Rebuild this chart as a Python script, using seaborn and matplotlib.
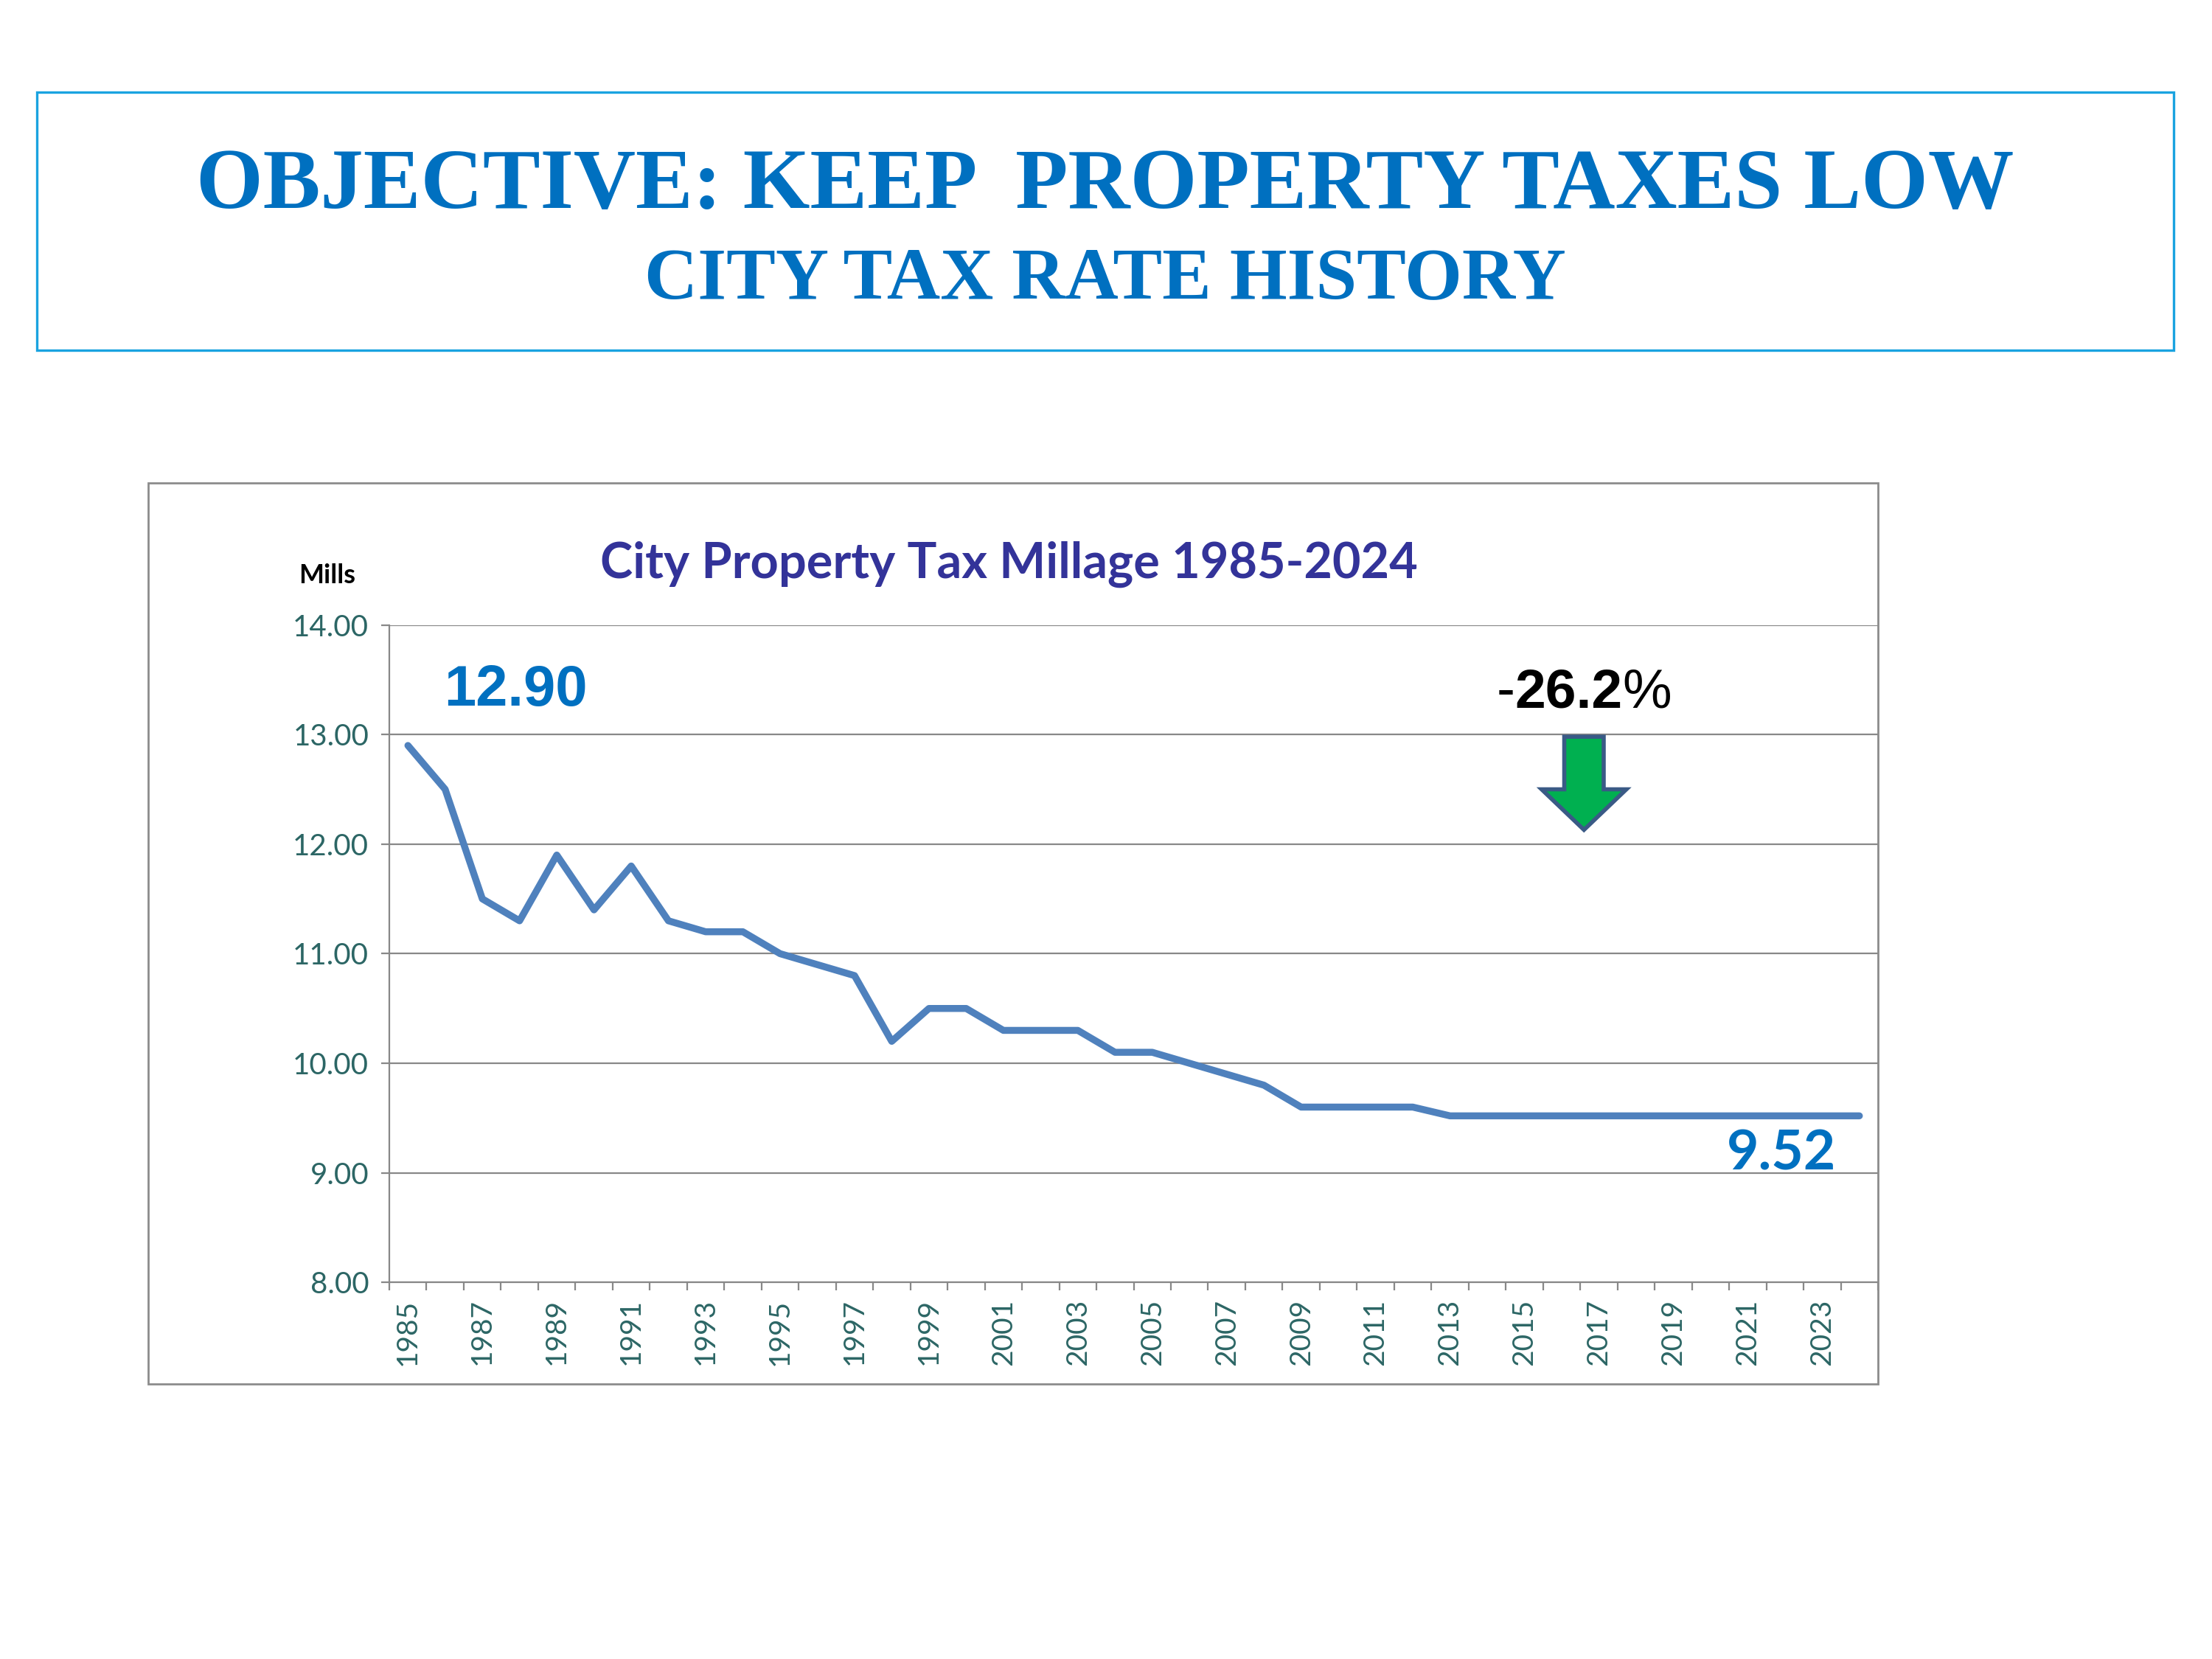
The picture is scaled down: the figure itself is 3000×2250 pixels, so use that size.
import numpy as np
import pandas as pd
import seaborn as sns
import matplotlib.pyplot as plt
from matplotlib.patches import Rectangle, Polygon

# millage by year
years = list(range(1985, 2025))
mills = [12.90, 12.50, 11.50, 11.30, 11.90, 11.40, 11.80, 11.30, 11.20, 11.20,
         11.00, 10.90, 10.80, 10.20, 10.50, 10.50, 10.30, 10.30, 10.30, 10.10,
         10.10, 10.00, 9.90, 9.80, 9.60, 9.60, 9.60, 9.60, 9.52, 9.52,
         9.52, 9.52, 9.52, 9.52, 9.52, 9.52, 9.52, 9.52, 9.52, 9.52]
y_ticks = [8, 9, 10, 11, 12, 13, 14]

df = pd.DataFrame({"pos": np.arange(len(years)), "year": years, "mills": mills})

sns.set_theme(style="white")
plt.rcParams["font.family"] = ["Lato", "DejaVu Sans"]

fig = plt.figure(figsize=(15, 11.25), dpi=200)

# header box
fig.patches.append(Rectangle((0.0166, 0.789), 0.966, 0.1556, transform=fig.transFigure,
                             fill=False, edgecolor="#1AA3E0", linewidth=1.2))
fig.text(0.4995, 0.887, "OBJECTIVE: KEEP  PROPERTY TAXES LOW", ha="center", va="center",
         family="Liberation Serif", fontweight="bold", fontsize=42, color="#0070C0")
fig.text(0.4995, 0.831, "CITY TAX RATE HISTORY", ha="center", va="center",
         family="Liberation Serif", fontweight="bold", fontsize=36, color="#0070C0")

# chart frame
fig.patches.append(Rectangle((0.067, 0.166), 0.782, 0.543, transform=fig.transFigure,
                             fill=False, edgecolor="#8C8C8C", linewidth=1.0))

ax = fig.add_axes([0.176, 0.227, 0.673, 0.3963])
sns.lineplot(data=df, x="pos", y="mills", ax=ax, color="#4F81BD", linewidth=3.4)

ax.set_xlim(-0.5, len(years) - 0.5)
ax.set_ylim(8, 14)
ax.set_yticks(y_ticks, [f"{v:.2f}" for v in y_ticks])
ax.yaxis.grid(True, color="#888888", linewidth=0.8)
ax.set_axisbelow(True)

# category boundaries get tick marks, every other year gets a label
ax.set_xticks(np.arange(-0.5, len(years), 1.0), [])
label_pos = np.arange(0, len(years), 2)
ax.set_xticks(label_pos, [str(years[i]) for i in label_pos], minor=True)
ax.tick_params(axis="x", which="major", direction="out", length=4, width=0.8,
               color="#888888", bottom=True)
ax.tick_params(axis="x", which="minor", length=0, labelsize=14, labelcolor="#2C6665",
               labelrotation=90, pad=8)
ax.tick_params(axis="y", direction="out", length=4, width=0.8, color="#888888", left=True,
               labelsize=14.5, labelcolor="#2C6665", pad=6)

for side in ["top", "right"]:
    ax.spines[side].set_visible(False)
for side in ["left", "bottom"]:
    ax.spines[side].set_color("#888888")
    ax.spines[side].set_linewidth(0.8)
ax.set_xlabel("")
ax.set_ylabel("")

fig.text(0.456, 0.660, "City Property Tax Millage 1985-2024", ha="center", va="center",
         fontsize=24, fontweight="bold", color="#333399")
fig.text(0.148, 0.653, "Mills", ha="center", va="center", fontsize=13,
         fontweight="bold", color="black")

ax.text(2.9, 13.4, f"{mills[0]:.2f}", ha="center", va="center", fontsize=28,
        fontweight="bold", color="#0070C0", family="Liberation Sans")
ax.text(36.9, 9.17, f"{mills[-1]:.2f}", ha="center", va="center", fontsize=27,
        fontweight="bold", color="#0070C0")

# percent change: minus and % in regular weight, number in bold
change = (mills[-1] - mills[0]) / mills[0] * 100
minus = ax.text(29.25, 13.38, "-", ha="left", va="center", fontsize=27,
                color="black", family="Liberation Sans")
num = ax.annotate(f"{abs(change):.1f}", xy=(1, 0), xycoords=minus, ha="left", va="bottom",
                  fontsize=27, fontweight="bold", color="black", family="Liberation Sans")
ax.annotate("%", xy=(1, 0), xycoords=num, ha="left", va="bottom",
            fontsize=27, color="black", family="Liberation Sans")

# green down arrow
cx = 31.6
arrow = Polygon([(cx - 0.53, 12.98), (cx + 0.53, 12.98), (cx + 0.53, 12.5),
                 (cx + 1.14, 12.5), (cx, 12.13), (cx - 1.14, 12.5), (cx - 0.53, 12.5)],
                closed=True, facecolor="#00B050", edgecolor="#3A5A86", linewidth=2.0,
                zorder=5)
ax.add_patch(arrow)

fig.savefig("out.png", dpi=200, facecolor="white")
